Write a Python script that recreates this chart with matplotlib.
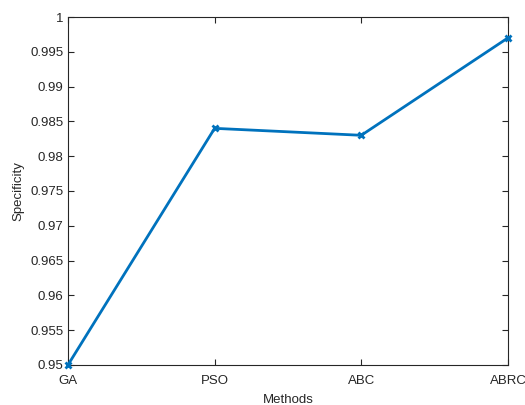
import matplotlib
matplotlib.use('Agg')
import matplotlib.pyplot as plt
import numpy as np

methods = ['GA', 'PSO', 'ABC', 'ABRC']
specificity = [0.950, 0.984, 0.983, 0.997]

plt.rcParams['font.family'] = ['Liberation Sans', 'DejaVu Sans']
plt.rcParams['font.size'] = 9.5

fig = plt.figure(figsize=(5.25, 4.05), dpi=100)
ax = fig.add_axes([0.1295, 0.099, 0.838, 0.859])

x = np.arange(len(methods))
ax.plot(x, specificity, color='#0072BD', linewidth=2, marker='x',
        markersize=5, markeredgewidth=2, clip_on=False, zorder=5)

ax.set_xlim(0, len(methods) - 1)
ax.set_ylim(0.95, 1.0)
ax.set_xticks(x, labels=methods)
ax.set_yticks(np.arange(0.95, 1.0001, 0.005))
ax.set_yticklabels(['0.95', '0.955', '0.96', '0.965', '0.97', '0.975',
                    '0.98', '0.985', '0.99', '0.995', '1'])
ax.tick_params(direction='in', top=True, right=True, length=4,
               colors='#262626', labelcolor='#262626')
ax.tick_params(axis='x', pad=7)
for s in ax.spines.values():
    s.set_color('#262626')
    s.set_linewidth(0.8)

ax.set_xlabel('Methods', color='#262626', labelpad=5)
ax.set_ylabel('Specificity', color='#262626')

fig.savefig('out.png', dpi=100)
